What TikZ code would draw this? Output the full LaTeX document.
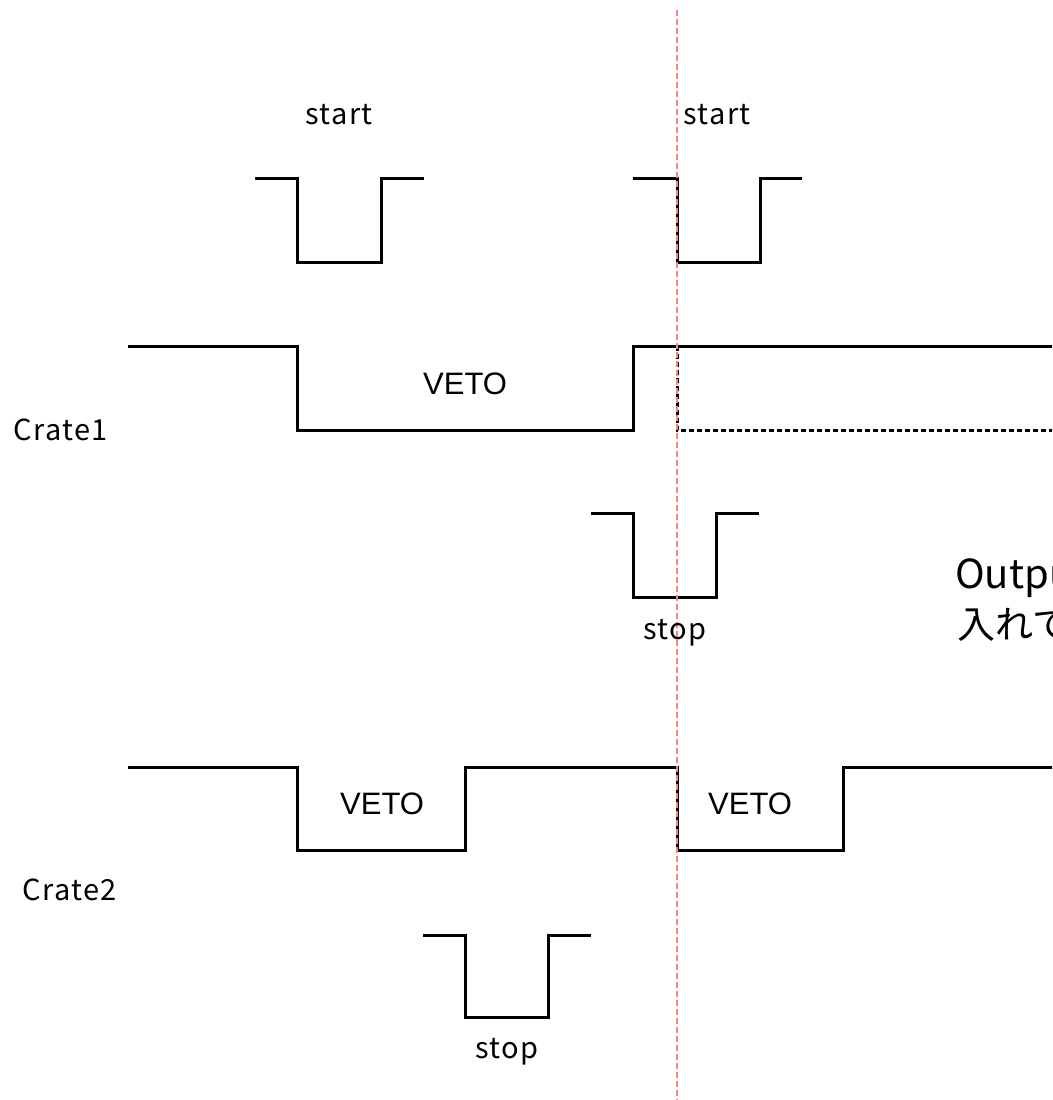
\documentclass[tikz,border=0pt]{standalone}
\usepackage{fontspec}
\setmainfont{Liberation Sans}
\newfontfamily\goth[LetterSpace=5]{Noto Sans CJK JP}
\newfontfamily\jpbig{Noto Sans CJK JP}
\begin{document}
\begin{tikzpicture}[x=1pt,y=-1pt,
  sig/.style={line width=3pt, line join=miter, black},
  sigdash/.style={line width=3pt, black, dash pattern=on 5pt off 3pt},
  marker/.style={line width=1.3pt, color=red!50, dash pattern=on 6pt off 3pt},
  glabel/.style={font=\goth\fontsize{29}{34}\selectfont, inner sep=0pt, anchor=base west},
  vlabel/.style={font=\fontsize{31}{36}\selectfont, inner sep=0pt, anchor=base west},
  big/.style={font=\jpbig\fontsize{40}{48}\selectfont, inner sep=0pt, anchor=base west}]
\useasboundingbox (0,0) rectangle (1052,1100);
\begin{scope}
\clip (0,0) rectangle (1052,1100);
% start pulses
\draw[sig] (255,178) -- (297,178) -- (297,262) -- (381,262) -- (381,178) -- (424,178);
\draw[sig] (633,178) -- (677,178) -- (677,262) -- (760,262) -- (760,178) -- (802,178);
% Crate1 VETO
\draw[sig] (128,346) -- (297,346) -- (297,430) -- (633,430) -- (633,346) -- (1060,346);
\draw[sigdash] (677,346) -- (677,430) -- (1060,430);
% stop pulse crate1
\draw[sig] (591,513) -- (633,513) -- (633,597) -- (716,597) -- (716,513) -- (759,513);
% Crate2 VETO
\draw[sig] (128,767) -- (297,767) -- (297,850) -- (465,850) -- (465,767) -- (677,767) -- (677,850) -- (843,850) -- (843,767) -- (1060,767);
% stop pulse crate2
\draw[sig] (423,935) -- (465,935) -- (465,1017) -- (548,1017) -- (548,935) -- (591,935);
% red marker line
\draw[marker] (677,10) -- (677,1100);
% labels
\node[glabel] (start1) at (305,124) {start};
\node[glabel] (start2) at (683,124) {start};
\node[vlabel] (veto1) at (423,394) {VETO};
\node[glabel] (crate1) at (13,440) {Crate1};
\node[glabel] (stop1) at (643,639) {stop};
\node[vlabel] (veto2) at (340,814) {VETO};
\node[vlabel] (veto3) at (708,814) {VETO};
\node[glabel] (crate2) at (22,900) {Crate2};
\node[glabel] (stop2) at (475,1058) {stop};
\node[big] (note1) at (955,588) {Output};
\node[big, font=\jpbig\fontsize{38}{44}\selectfont] (note2) at (957,638) {入れて};
\end{scope}
\end{tikzpicture}
\end{document}
